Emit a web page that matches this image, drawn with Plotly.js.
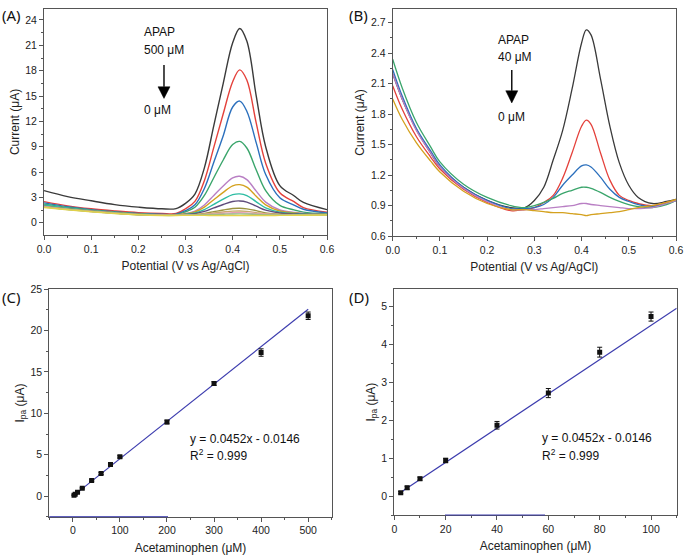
<!DOCTYPE html>
<html>
<head>
<meta charset="utf-8">
<script src="https://cdn.plot.ly/plotly-3.0.1.min.js"></script>
<style>
  body { margin: 0; background: #fff; }
  #chart { width: 690px; height: 560px; }
</style>
</head>
<body>
<div id="chart"></div>
<script>
// (A) DPV curves, 0 - 500 uM APAP
var potA = [0, 0.05, 0.1, 0.15, 0.2, 0.25, 0.28, 0.3, 0.32, 0.34, 0.36, 0.38, 0.4, 0.415, 0.43, 0.45, 0.47, 0.5, 0.53, 0.55, 0.6];
var a500 = [3.8, 3.1, 2.6, 2.15, 1.85, 1.65, 1.68, 2.3, 3.4, 6.5, 11.5, 16.5, 21.3, 23.0, 21.5, 15.0, 9.0, 4.4, 3.2, 2.4, 1.55];
var a400 = [2.5, 2.0, 1.65, 1.4, 1.2, 1.1, 1.1, 1.66, 2.53, 4.98, 8.92, 12.9, 16.7, 18.1, 16.9, 11.8, 7.05, 3.55, 2.5, 1.8, 1.25];
var a300 = [2.35, 1.9, 1.55, 1.3, 1.1, 1.0, 1.0, 1.44, 2.13, 4.06, 7.16, 10.3, 13.7, 14.4, 13.2, 9.45, 5.7, 2.95, 2.1, 1.6, 1.15];
var a200 = [2.2, 1.8, 1.5, 1.25, 1.05, 0.95, 0.95, 1.3, 1.83, 3.23, 5.33, 7.43, 9.26, 9.63, 8.85, 6.25, 3.8, 2.05, 1.53, 1.26, 1.05];
var a100 = [2.05, 1.7, 1.42, 1.2, 1.02, 0.92, 0.9, 1.09, 1.37, 2.11, 3.23, 4.34, 5.32, 5.5, 5.11, 3.74, 2.44, 1.51, 1.23, 1.09, 0.97];
var a80 = [2.0, 1.66, 1.4, 1.18, 1.0, 0.9, 0.9, 1.05, 1.27, 1.85, 2.73, 3.6, 4.37, 4.51, 4.21, 3.14, 2.12, 1.39, 1.17, 1.06, 0.97];
var a60 = [2.1, 1.72, 1.44, 1.2, 1.02, 0.92, 0.9, 1.0, 1.16, 1.56, 2.18, 2.79, 3.32, 3.42, 3.22, 2.48, 1.77, 1.26, 1.1, 1.03, 0.97];
var a40 = [1.95, 1.62, 1.36, 1.15, 0.98, 0.89, 0.88, 0.97, 1.07, 1.34, 1.75, 2.16, 2.52, 2.58, 2.45, 1.97, 1.49, 1.15, 1.05, 1.0, 0.96];
var a20 = [1.9, 1.6, 1.35, 1.14, 0.97, 0.88, 0.88, 0.93, 0.98, 1.11, 1.31, 1.51, 1.68, 1.71, 1.64, 1.44, 1.17, 1.0, 0.97, 0.95, 0.95];
var a10 = [1.95, 1.62, 1.37, 1.15, 0.98, 0.89, 0.88, 0.92, 0.95, 1.03, 1.15, 1.27, 1.37, 1.39, 1.35, 1.2, 1.06, 0.96, 0.94, 0.93, 0.94];
var a5 = [1.88, 1.58, 1.34, 1.13, 0.96, 0.88, 0.87, 0.91, 0.93, 0.98, 1.05, 1.12, 1.18, 1.2, 1.17, 1.08, 1.0, 0.94, 0.93, 0.92, 0.93];
var a2_5 = [1.85, 1.56, 1.32, 1.12, 0.95, 0.87, 0.87, 0.9, 0.91, 0.94, 0.97, 1.01, 1.04, 1.05, 1.03, 0.99, 0.95, 0.92, 0.91, 0.91, 0.92];
var a0 = [1.8, 1.54, 1.3, 1.1, 0.94, 0.86, 0.86, 0.87, 0.87, 0.87, 0.86, 0.86, 0.85, 0.85, 0.85, 0.86, 0.86, 0.87, 0.88, 0.89, 0.91];
var curvesA = [a500, a400, a300, a200, a100, a80, a60, a40, a20, a10, a5, a2_5, a0];
var colorsA = ['#3a3a3a', '#e4413b', '#2c70bd', '#3aa56b', '#b97fc4', '#d4a11e', '#2dbda3', '#5f4c7c',
               '#9c9440', '#c9a96b', '#e79fb2', '#8fba8f', '#e2d24a'];

// (B) DPV curves, 0 - 40 uM APAP
var potB = [0, 0.02, 0.05, 0.08, 0.1, 0.15, 0.2, 0.25, 0.28, 0.3, 0.32, 0.34, 0.36, 0.38, 0.4, 0.41, 0.42, 0.44, 0.46, 0.48, 0.5, 0.52, 0.55, 0.58, 0.6];
var b40 = [2.2, 1.95, 1.65, 1.42, 1.28, 1.08, 0.95, 0.88, 0.88, 0.95, 1.08, 1.35, 1.64, 2.05, 2.5, 2.63, 2.58, 2.15, 1.68, 1.32, 1.1, 0.98, 0.92, 0.94, 0.96];
var b20 = [2.08, 1.85, 1.58, 1.38, 1.26, 1.06, 0.93, 0.85, 0.86, 0.88, 0.93, 1.0, 1.17, 1.42, 1.68, 1.74, 1.7, 1.42, 1.15, 1.0, 0.95, 0.92, 0.9, 0.93, 0.95];
var b10 = [2.24, 1.98, 1.66, 1.44, 1.3, 1.08, 0.95, 0.87, 0.87, 0.88, 0.91, 0.98, 1.1, 1.2, 1.29, 1.3, 1.28, 1.18, 1.06, 0.98, 0.94, 0.91, 0.89, 0.92, 0.95];
var b5 = [2.34, 2.06, 1.72, 1.48, 1.33, 1.11, 0.98, 0.9, 0.88, 0.9, 0.93, 0.97, 1.02, 1.05, 1.08, 1.08, 1.07, 1.03, 0.98, 0.94, 0.91, 0.89, 0.88, 0.91, 0.95];
var b2_5 = [2.2, 1.95, 1.64, 1.42, 1.28, 1.07, 0.94, 0.86, 0.86, 0.86, 0.87, 0.88, 0.89, 0.9, 0.92, 0.92, 0.91, 0.9, 0.89, 0.88, 0.87, 0.87, 0.88, 0.92, 0.95];
var b0 = [1.95, 1.75, 1.52, 1.34, 1.23, 1.04, 0.92, 0.86, 0.86, 0.85, 0.84, 0.83, 0.83, 0.82, 0.81, 0.8, 0.81, 0.82, 0.83, 0.84, 0.86, 0.88, 0.9, 0.93, 0.96];
var curvesB = [b40, b20, b10, b5, b2_5, b0];
var colorsB = ['#3a3a3a', '#e4413b', '#2c70bd', '#3aa56b', '#b97fc4', '#d4a11e'];

// (C) calibration, full range
var concC = [2.5, 5, 10, 20, 40, 60, 80, 100, 200, 300, 400, 500];
var ipaC = [0.1, 0.22, 0.46, 0.94, 1.87, 2.72, 3.8, 4.74, 8.95, 13.6, 17.35, 21.8];
var errC = [0.05, 0.05, 0.06, 0.08, 0.1, 0.12, 0.14, 0.14, 0.22, 0.22, 0.45, 0.45];
var fitCx = [0, 500];
var fitCy = [-0.01, 22.59];

// (D) calibration, low range
var concD = [2.5, 5, 10, 20, 40, 60, 80, 100];
var ipaD = [0.09, 0.22, 0.46, 0.94, 1.87, 2.72, 3.8, 4.74];
var errD = [0.03, 0.04, 0.04, 0.06, 0.1, 0.12, 0.13, 0.12];
var fitDx = [3, 110];
var fitDy = [0.12, 4.96];

var data = [];
curvesA.forEach(function (y, i) {
  data.push({x: potA, y: y, type: 'scatter', mode: 'lines', xaxis: 'x', yaxis: 'y',
    line: {color: colorsA[i], width: 1.4, shape: 'spline'}, hoverinfo: 'none'});
});
curvesB.forEach(function (y, i) {
  data.push({x: potB, y: y, type: 'scatter', mode: 'lines', xaxis: 'x2', yaxis: 'y2',
    line: {color: colorsB[i], width: 1.3, shape: 'spline'}, hoverinfo: 'none'});
});
data.push({x: fitCx, y: fitCy, type: 'scatter', mode: 'lines', xaxis: 'x3', yaxis: 'y3',
  line: {color: '#3c3cae', width: 1.2}});
data.push({x: concC, y: ipaC, type: 'scatter', mode: 'markers', xaxis: 'x3', yaxis: 'y3',
  marker: {symbol: 'square', size: 5, color: '#111'},
  error_y: {type: 'data', array: errC, color: '#111', thickness: 1, width: 2.5}});
data.push({x: fitDx, y: fitDy, type: 'scatter', mode: 'lines', xaxis: 'x4', yaxis: 'y4',
  line: {color: '#3c3cae', width: 1.2}});
data.push({x: concD, y: ipaD, type: 'scatter', mode: 'markers', xaxis: 'x4', yaxis: 'y4',
  marker: {symbol: 'square', size: 5, color: '#111'},
  error_y: {type: 'data', array: errD, color: '#111', thickness: 1, width: 2.5}});

function ax(domain, range, dtick, minor, title, extra) {
  var a = {
    domain: domain, range: range, dtick: dtick, tick0: 0,
    showline: true, mirror: true, linecolor: '#555', linewidth: 1,
    ticks: 'outside', ticklen: 4, tickcolor: '#555', tickwidth: 1,
    showgrid: false, zeroline: false,
    minor: {dtick: minor, ticks: 'outside', ticklen: 2, tickcolor: '#555', showgrid: false},
    tickfont: {size: 10.5, color: '#222'},
    title: {text: title, font: {size: 12, color: '#222'}, standoff: 8}
  };
  for (var k in extra) a[k] = extra[k];
  return a;
}

function label(text, x, y, xref, yref, size) {
  return {text: text, x: x, y: y, xref: xref, yref: yref, showarrow: false,
    xanchor: 'left', yanchor: 'middle', font: {size: size || 12, color: '#111'}};
}

// down arrow = shaft + filled head, drawn in data units of one panel
function arrow(xref, yref, x, yTop, yBase, yTip, half) {
  return [
    {type: 'line', xref: xref, yref: yref, x0: x, x1: x, y0: yTop, y1: yBase,
      line: {color: '#000', width: 1.4}},
    {type: 'path', xref: xref, yref: yref, fillcolor: '#000', line: {color: '#000', width: 0.5},
      path: 'M ' + (x - half) + ',' + yBase + ' L ' + (x + half) + ',' + yBase + ' L ' + x + ',' + yTip + ' Z'}
  ];
}

var annotations = [
  {text: '(A)', x: 0, y: 15},
  {text: '(B)', x: 347, y: 15},
  {text: '(C)', x: 0, y: 297},
  {text: '(D)', x: 347, y: 297}
].map(function (p) {
  return {text: p.text, x: p.x / 690, y: 1 - p.y / 560, xref: 'paper', yref: 'paper',
    showarrow: false, xanchor: 'left', yanchor: 'middle',
    font: {family: 'Noto Sans, sans-serif', size: 15, color: '#111'}};
});

annotations.push(label('APAP', 0.208, 22.55, 'x', 'y'));
annotations.push(label('500 \u03bcM', 0.208, 20.5, 'x', 'y'));
annotations.push(label('0 \u03bcM', 0.208, 13.4, 'x', 'y'));

annotations.push(label('APAP', 0.219, 2.53, 'x2', 'y2'));
annotations.push(label('40 \u03bcM', 0.219, 2.364, 'x2', 'y2'));
annotations.push(label('0 \u03bcM', 0.219, 1.772, 'x2', 'y2'));

annotations.push(label('y = 0.0452x - 0.0146', 244, 6.92, 'x3', 'y3'));
annotations.push(label('R<sup>2</sup> = 0.999', 244, 4.98, 'x3', 'y3'));
annotations.push(label('y = 0.0452x - 0.0146', 56.7, 1.53, 'x4', 'y4'));
annotations.push(label('R<sup>2</sup> = 0.999', 56.7, 1.08, 'x4', 'y4'));

var shapes = []
  .concat(arrow('x', 'y', 0.2544, 18.66, 16.09, 14.72, 0.0127))
  .concat(arrow('x2', 'y2', 0.2522, 2.235, 2.03, 1.91, 0.0127))
  .concat([
    {type: 'line', xref: 'paper', yref: 'paper', x0: 49.3 / 690, x1: 168 / 690,
      y0: 1 - 516.7 / 560, y1: 1 - 516.7 / 560, line: {color: '#3c3cae', width: 1}},
    {type: 'line', xref: 'paper', yref: 'paper', x0: 445 / 690, x1: 545 / 690,
      y0: 1 - 515 / 560, y1: 1 - 515 / 560, line: {color: '#3c3cae', width: 1}}
  ]);

var ytitle = {standoff: 3};
function yax(domain, range, dtick, minor, title, extra) {
  var a = ax(domain, range, dtick, minor, title, extra);
  a.title.standoff = 3;
  return a;
}

var layout = {
  width: 690, height: 560,
  margin: {l: 0, r: 0, t: 0, b: 0},
  paper_bgcolor: '#fff', plot_bgcolor: '#fff',
  font: {family: 'Liberation Sans, Arial, sans-serif', color: '#222'},
  showlegend: false,
  xaxis: ax([44 / 690, 327 / 690], [0, 0.6], 0.1, 0.05, 'Potential (V vs Ag/AgCl)', {tickformat: '.1f', anchor: 'y'}),
  yaxis: yax([1 - 235 / 560, 1 - 9 / 560], [-1.45, 25.3], 3, 1.5, 'Current (\u03bcA)', {anchor: 'x'}),
  xaxis2: ax([392.7 / 690, 676 / 690], [0, 0.6], 0.1, 0.05, 'Potential (V vs Ag/AgCl)', {tickformat: '.1f', anchor: 'y2'}),
  yaxis2: yax([1 - 236 / 560, 1 - 9 / 560], [0.6, 2.835], 0.3, 0.15, 'Current (\u03bcA)', {tickformat: '.1f', tick0: 0.6, anchor: 'x2'}),
  xaxis3: ax([49.3 / 690, 331.7 / 690], [-50, 550], 100, 50, 'Acetaminophen (\u03bcM)', {anchor: 'y3'}),
  yaxis3: yax([1 - 516.7 / 560, 1 - 289.3 / 560], [-2.5, 25], 5, 2.5, 'I<sub>pa</sub> (\u03bcA)', {anchor: 'x3'}),
  xaxis4: ax([394.3 / 690, 676.7 / 690], [0, 110], 20, 10, 'Acetaminophen (\u03bcM)', {anchor: 'y4'}),
  yaxis4: yax([1 - 515 / 560, 1 - 289.3 / 560], [-0.5, 5.46], 1, 0.5, 'I<sub>pa</sub> (\u03bcA)', {anchor: 'x4'}),
  annotations: annotations,
  shapes: shapes
};

Plotly.newPlot('chart', data, layout, {staticPlot: true});
</script>
</body>
</html>
